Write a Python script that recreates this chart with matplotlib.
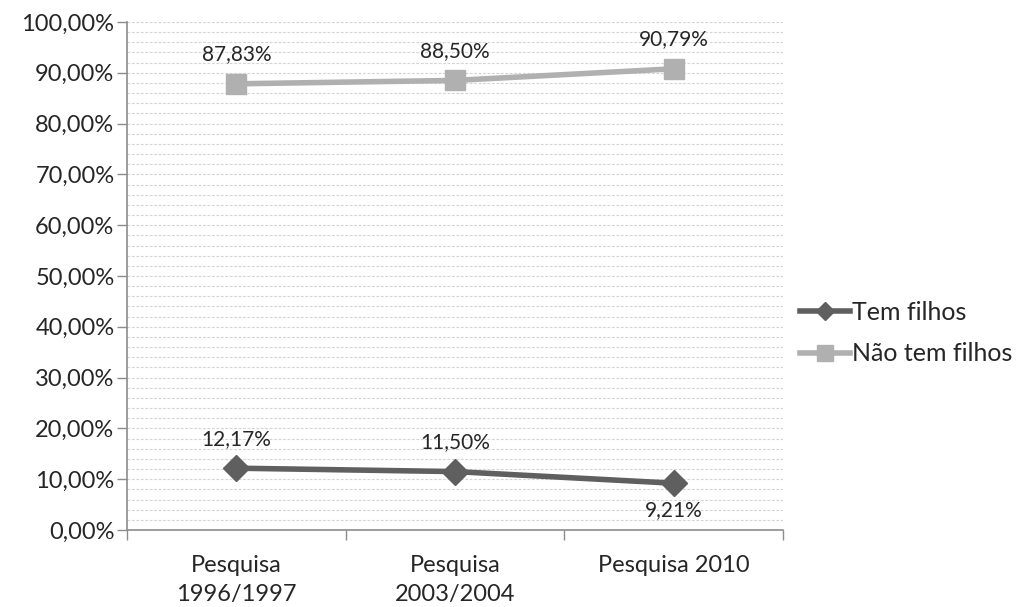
import matplotlib
matplotlib.use("Agg")
import matplotlib.pyplot as plt
from matplotlib.lines import Line2D
from matplotlib.ticker import MultipleLocator, FuncFormatter

# survey rounds and shares of respondents
categories = ["Pesquisa\n1996/1997", "Pesquisa\n2003/2004", "Pesquisa 2010"]
tem_filhos = [12.17, 11.50, 9.21]
nao_tem_filhos = [87.83, 88.50, 90.79]
series_names = ["Tem filhos", "Não tem filhos"]

DARK = "#5f5f5f"
LIGHT = "#b0b0b0"
TEXT = "#262626"
FONT = ["Lato", "DejaVu Sans"]


def pct(v, decimals=2):
    return f"{v:.{decimals}f}".replace(".", ",") + "%"


plt.rcParams["font.family"] = FONT

fig = plt.figure(figsize=(10.18, 6.07), dpi=100)
ax = fig.add_axes([127 / 1018, 1 - 530 / 607, 656 / 1018, 508 / 607])

x = range(len(categories))
ax.plot(x, tem_filhos, color=DARK, lw=4, marker="D", ms=13, zorder=3)
ax.plot(x, nao_tem_filhos, color=LIGHT, lw=4, marker="s", ms=15, zorder=3)

# value labels: above the point, except the last "Tem filhos" one
for series in (nao_tem_filhos, tem_filhos):
    for i, v in enumerate(series):
        below = series is tem_filhos and i == len(series) - 1
        ax.annotate(pct(v), (i, v), xytext=(0, -12 if below else 14),
                    textcoords="offset points", ha="center",
                    va="top" if below else "bottom", fontsize=15, color=TEXT)

ax.set_xlim(-0.5, len(categories) - 0.5)
ax.set_ylim(0, 100)
ax.yaxis.set_major_locator(MultipleLocator(10))
ax.yaxis.set_minor_locator(MultipleLocator(2))
ax.yaxis.set_major_formatter(FuncFormatter(lambda v, _: pct(v)))
ax.grid(axis="y", which="both", color="#d4d4d4", lw=0.8, ls=(0, (2.5, 1.5)))
ax.set_axisbelow(True)

# category ticks sit on the boundaries, labels in the middle
ax.set_xticks([i - 0.5 for i in range(len(categories) + 1)])
ax.set_xticklabels([])
ax.set_xticks(list(x), minor=True)
ax.set_xticklabels(categories, minor=True, fontsize=17, color=TEXT,
                   linespacing=1.45)
ax.tick_params(axis="x", which="major", length=7, color="#8c8c8c", width=1)
ax.tick_params(axis="x", which="minor", length=0, pad=18)
ax.tick_params(axis="y", which="major", length=7, color="#8c8c8c", width=1,
               labelsize=17, labelcolor=TEXT, pad=2)
ax.tick_params(axis="y", which="minor", length=0)

for side in ["top", "right"]:
    ax.spines[side].set_visible(False)
for side in ["left", "bottom"]:
    ax.spines[side].set_color("#8c8c8c")
    ax.spines[side].set_linewidth(1.2)

handles = [
    Line2D([], [], color=DARK, lw=4, marker="D", ms=9),
    Line2D([], [], color=LIGHT, lw=4, marker="s", ms=11),
]
fig.legend(handles, series_names, loc="center left",
           bbox_to_anchor=(790 / 1018, 1 - 333 / 607),
           frameon=False, fontsize=18, handlelength=2.0, handletextpad=0.1,
           labelspacing=0.75, labelcolor=TEXT, borderaxespad=0)

fig.savefig("out.png", dpi=100)
